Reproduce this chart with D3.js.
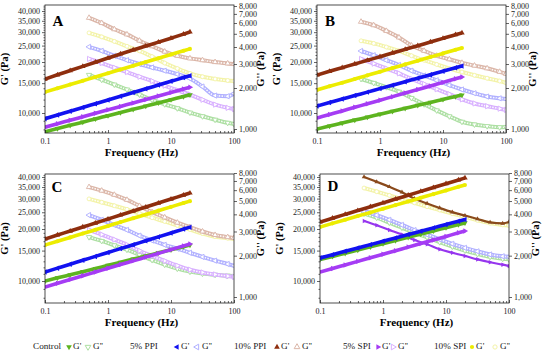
<!DOCTYPE html>
<html><head><meta charset="utf-8">
<script src="https://cdn.jsdelivr.net/npm/d3@7"></script>
<style>
body{margin:0;background:#fff}
svg{display:block}
</style>
</head><body>
<svg id="c" width="550" height="358"></svg>
<script>
// ---------- DATA ----------
const freqGp  = [0.1, 0.158, 0.251, 0.398, 0.631, 1, 1.58, 2.51, 3.98, 6.31, 10, 15.8, 20];
const freqGpp = [0.5, 0.794, 1.26, 2, 3.16, 5.01, 7.94, 12.6, 20, 31.6, 50.1, 79.4, 100];
const groups = ["Control", "5% PPI", "10% PPI", "5% SPI", "10% SPI"];
const xTicks = [0.1, 1, 10, 100];
const xTickLabels = ["0.1", "1", "10", "100"];
const gpTicks = [10000, 15000, 20000, 25000, 30000, 35000, 40000];
const gppTicks = [1000, 2000, 3000, 4000, 5000, 6000, 7000, 8000];
const panelLetters = ["A", "B", "C", "D"];

// Panel A
const gpA_control = [7750, 8100, 8460, 8830, 9230, 9640, 10070, 10510, 10980, 11470, 11980, 12520, 12800];
const gpA_ppi5    = [9250, 9740, 10250, 10790, 11350, 11940, 12560, 13210, 13900, 14620, 15380, 16180, 16600];
const gpA_ppi10   = [15850, 16800, 17800, 18850, 19950, 21100, 22300, 23550, 24850, 26200, 27650, 29200, 30100];
const gpA_spi5    = [8250, 8650, 9060, 9500, 9960, 10440, 10940, 11470, 12030, 12610, 13210, 13850, 14200];
const gpA_spi10   = [13300, 14000, 14730, 15500, 16310, 17160, 18060, 19000, 20000, 21040, 22140, 23300, 23900];
const gppA_control = [2495, 2300, 2120, 1950, 1790, 1640, 1520, 1420, 1320, 1240, 1170, 1110, 1090];
const gppA_ppi5    = [4010, 3750, 3450, 3200, 3000, 2830, 2680, 2530, 2350, 2050, 1760, 1740, 1820];
const gppA_ppi10   = [6550, 6000, 5400, 4950, 4450, 4050, 3700, 3450, 3300, 3200, 3100, 3030, 3000];
const gppA_spi5    = [3270, 3050, 2820, 2620, 2420, 2250, 2080, 1920, 1790, 1640, 1510, 1430, 1400];
const gppA_spi10   = [5080, 4750, 4400, 4050, 3750, 3400, 3050, 2780, 2560, 2420, 2330, 2270, 2250];

// Panel B
const gpB_control = [8045, 8370, 8720, 9080, 9450, 9840, 10240, 10660, 11100, 11550, 12030, 12520, 12770];
const gpB_ppi5    = [10990, 11520, 12080, 12670, 13280, 13930, 14600, 15310, 16050, 16830, 17650, 18500, 18950];
const gpB_ppi10   = [16760, 17620, 18520, 19460, 20460, 21500, 22600, 23750, 24960, 26240, 27580, 28990, 29700];
const gpB_spi5    = [9340, 9800, 10290, 10800, 11340, 11900, 12490, 13110, 13760, 14440, 15160, 15910, 16300];
const gpB_spi10   = [13670, 14370, 15100, 15870, 16680, 17530, 18420, 19360, 20350, 21390, 22480, 23630, 24200];
const gppB_control = [2330, 2180, 2030, 1880, 1690, 1520, 1370, 1240, 1130, 1080, 1050, 1030, 1035];
const gppB_ppi5    = [3740, 3480, 3200, 2950, 2680, 2470, 2280, 2100, 1950, 1830, 1730, 1680, 1660];
const gppB_ppi10   = [6130, 5780, 5250, 4700, 4100, 3750, 3450, 3250, 3060, 2920, 2790, 2630, 2540];
const gppB_spi5    = [3270, 3020, 2780, 2560, 2330, 2140, 1960, 1800, 1650, 1540, 1470, 1410, 1380];
const gppB_spi10   = [4440, 4250, 4000, 3750, 3450, 3200, 2980, 2780, 2620, 2480, 2360, 2250, 2180];

// Panel C
const gpC_control = [10000, 10430, 10870, 11330, 11810, 12320, 12840, 13390, 13950, 14550, 15170, 15810, 16150];
const gpC_ppi5    = [11270, 11870, 12510, 13170, 13880, 14620, 15400, 16220, 17090, 18000, 18960, 19970, 20500];
const gpC_ppi10   = [17500, 18460, 19460, 20530, 21650, 22840, 24090, 25400, 26790, 28260, 29800, 31430, 32300];
const gpC_spi5    = [9230, 9700, 10200, 10720, 11270, 11840, 12450, 13080, 13750, 14450, 15190, 15970, 16380];
const gpC_spi10   = [16150, 16990, 17880, 18820, 19800, 20830, 21920, 23070, 24270, 25540, 26870, 28270, 29000];
const gppC_control = [2730, 2560, 2380, 2210, 2030, 1860, 1720, 1610, 1530, 1480, 1450, 1430, 1420];
const gppC_ppi5    = [3950, 3650, 3350, 3080, 2800, 2580, 2400, 2250, 2100, 1960, 1840, 1740, 1690];
const gppC_ppi10   = [6320, 5950, 5550, 5100, 4600, 4150, 3800, 3480, 3230, 3000, 2830, 2730, 2690];
const gppC_spi5    = [3080, 2850, 2620, 2400, 2170, 1990, 1830, 1690, 1580, 1510, 1460, 1420, 1400];
const gppC_spi10   = [5180, 4900, 4620, 4350, 4050, 3780, 3550, 3320, 3100, 2900, 2750, 2680, 2650];

// Panel D
const gpD_control = [13300, 13880, 14480, 15110, 15760, 16450, 17160, 17910, 18690, 19500, 20350, 21230, 21700];
const gpD_ppi5    = [13590, 14210, 14860, 15540, 16240, 16980, 17760, 18570, 19410, 20300, 21220, 22190, 22700];
const gpD_ppi10   = [21950, 23100, 24310, 25580, 26920, 28330, 29810, 31370, 33020, 34750, 36570, 38480, 39500];
const gpD_spi5    = [11270, 11820, 12390, 12990, 13630, 14290, 14980, 15710, 16480, 17280, 18120, 19000, 19460];
const gpD_spi10   = [20540, 21560, 22640, 23770, 24950, 26200, 27500, 28880, 30320, 31830, 33420, 35090, 35960];
const gppD_control = [4050, 3780, 3480, 3200, 2930, 2720, 2510, 2330, 2180, 2060, 1960, 1900, 1880];
const gppD_ppi5    = [4230, 3950, 3650, 3350, 3070, 2850, 2630, 2440, 2280, 2150, 2040, 1980, 1960];
const gppD_ppi10   = [7490, 6900, 6350, 5800, 5200, 4800, 4450, 4150, 3920, 3700, 3500, 3440, 3520];
const gppD_spi5    = [3580, 3330, 3080, 2850, 2600, 2420, 2230, 2100, 1990, 1880, 1790, 1720, 1680];
const gppD_spi10   = [6220, 5850, 5500, 5150, 4850, 4550, 4300, 4050, 3830, 3620, 3450, 3350, 3320];

// ---------- STYLE / LAYOUT ----------
const FONT = "'Liberation Serif', 'Times New Roman', serif";
const keys = ["control", "ppi5", "ppi10", "spi5", "spi10"];
const style = {
  control: {gp:"#5db41f", gpp:"#acdfa2", sym:d3.symbolTriangle, rot:180},
  ppi5:    {gp:"#1212f0", gpp:"#b0b0ff", sym:d3.symbolTriangle, rot:-90},
  ppi10:   {gp:"#8e2e0e", gpp:"#dbb6a8", sym:d3.symbolTriangle, rot:0},
  spi5:    {gp:"#a53cf4", gpp:"#d8b0ff", sym:d3.symbolTriangle, rot:90},
  spi10:   {gp:"#ecec00", gpp:"#f3f3a8", sym:d3.symbolCircle, rot:0}
};
const panelData = {
  A: {gp:{control:gpA_control, ppi5:gpA_ppi5, ppi10:gpA_ppi10, spi5:gpA_spi5, spi10:gpA_spi10},
      gpp:{control:gppA_control, ppi5:gppA_ppi5, ppi10:gppA_ppi10, spi5:gppA_spi5, spi10:gppA_spi10}},
  B: {gp:{control:gpB_control, ppi5:gpB_ppi5, ppi10:gpB_ppi10, spi5:gpB_spi5, spi10:gpB_spi10},
      gpp:{control:gppB_control, ppi5:gppB_ppi5, ppi10:gppB_ppi10, spi5:gppB_spi5, spi10:gppB_spi10}},
  C: {gp:{control:gpC_control, ppi5:gpC_ppi5, ppi10:gpC_ppi10, spi5:gpC_spi5, spi10:gpC_spi10},
      gpp:{control:gppC_control, ppi5:gppC_ppi5, ppi10:gppC_ppi10, spi5:gppC_spi5, spi10:gppC_spi10}},
  D: {gp:{control:gpD_control, ppi5:gpD_ppi5, ppi10:gpD_ppi10, spi5:gpD_spi5, spi10:gpD_spi10},
      gpp:{control:gppD_control, ppi5:gppD_ppi5, ppi10:gppD_ppi10, spi5:gppD_spi5, spi10:gppD_spi10}}
};
const layout = {
  A: {x:[45,234], gp:[113,11],  gpp:[129,6],   frame:[5,133],   letter:[58,23]},
  B: {x:[317,506],gp:[113,11],  gpp:[129,6],   frame:[5,133],   letter:[330,23]},
  C: {x:[45,234], gp:[281,177], gpp:[297,173], frame:[174,303], letter:[57,189]},
  D: {x:[320,509],gp:[281,177], gpp:[297,173], frame:[174,303], letter:[333,188]}
};
const darkGpp = {D:{ppi10:"#8a4a1c", spi5:"#9636ee"}};

const svg = d3.select("#c");

function symPath(k, size){ return d3.symbol().type(style[k].sym).size(size)(); }

panelLetters.forEach(id => {
  const L = layout[id], D = panelData[id];
  const x = d3.scaleLog().domain([0.1, 100]).range(L.x);
  const yL = d3.scaleLog().domain([10000, 40000]).range(L.gp);
  const yR = d3.scaleLog().domain([1000, 8000]).range(L.gpp);
  const g = svg.append("g");
  const [t, b] = L.frame;

  const clipId = "clip" + id;
  g.append("clipPath").attr("id", clipId).append("rect")
    .attr("x", L.x[0]).attr("y", t).attr("width", L.x[1]-L.x[0]).attr("height", b-t);
  const plot = g.append("g").attr("clip-path", `url(#${clipId})`);

  const order = ["control", "spi5", "ppi5", "spi10", "ppi10"];
  order.forEach(k => {
    const vals = D.gpp[k];
    const pts = freqGpp.map((f, i) => [f, vals[i]]);
    const line = d3.line().x(d => x(d[0])).y(d => yR(d[1])).curve(d3.curveMonotoneX);
    const dark = darkGpp[id] && darkGpp[id][k];
    if (dark) {
      plot.append("path").attr("d", line(pts)).attr("fill","none")
        .attr("stroke", dark).attr("stroke-width", 2.2);
      plot.selectAll(null).data(pts).enter().append("path")
        .attr("d", symPath(k, 9))
        .attr("transform", d => `translate(${x(d[0])},${yR(d[1])}) rotate(${style[k].rot})`)
        .attr("fill", dark);
    } else {
      plot.append("path").attr("d", line(pts)).attr("fill","none")
        .attr("stroke", style[k].gpp).attr("stroke-width", 4);
      plot.append("path").attr("d", line(pts)).attr("fill","none")
        .attr("stroke", "#fff").attr("stroke-width", 1.6).attr("stroke-dasharray", "1.6,1.2").attr("opacity", 0.9);
      plot.selectAll(null).data(pts).enter().append("path")
        .attr("d", symPath(k, 12))
        .attr("transform", d => `translate(${x(d[0])},${yR(d[1])}) rotate(${style[k].rot})`)
        .attr("fill", "#fff").attr("stroke", style[k].gpp).attr("stroke-width", 0.9);
    }
  });

  order.forEach(k => {
    const vals = D.gp[k];
    const pts = freqGp.map((f, i) => [f, vals[i]]);
    const line = d3.line().x(d => x(d[0])).y(d => yL(d[1])).curve(d3.curveMonotoneX);
    plot.append("path").attr("d", line(pts)).attr("fill","none")
      .attr("stroke", style[k].gp).attr("stroke-width", 3.6);
    plot.selectAll(null).data(pts).enter().append("path")
      .attr("d", symPath(k, 13))
      .attr("transform", d => `translate(${x(d[0])},${yL(d[1])}) rotate(${style[k].rot})`)
      .attr("fill", style[k].gp);
  });

  g.append("rect").attr("x", L.x[0]).attr("y", t).attr("width", L.x[1]-L.x[0]).attr("height", b-t)
    .attr("fill", "none").attr("stroke", "#222").attr("stroke-width", 0.8);

  const minorX = [];
  [0.1, 1, 10].forEach(dec => { for (let m = 2; m <= 9; m++) minorX.push(dec * m); });
  const ax = g.append("g").attr("transform", `translate(0,${b})`)
    .call(d3.axisBottom(x).tickValues(xTicks).tickFormat((d, i) => xTickLabels[i]).tickSize(-3).tickPadding(5));
  g.append("g").attr("transform", `translate(0,${b})`)
    .call(d3.axisBottom(x).tickValues(minorX).tickFormat("").tickSize(-2));
  const minorL = [];
  for (let v = 8000; v <= 43000; v += 1000) if (v % 5000 !== 0) minorL.push(v);
  const al = g.append("g").attr("transform", `translate(${L.x[0]},0)`)
    .call(d3.axisLeft(yL).tickValues(gpTicks).tickFormat(d3.format(",")).tickSize(3).tickPadding(2));
  g.append("g").attr("transform", `translate(${L.x[0]},0)`)
    .call(d3.axisLeft(yL).tickValues(minorL.filter(v => yL(v) >= t && yL(v) <= b)).tickFormat("").tickSize(1.5));
  const ar = g.append("g").attr("transform", `translate(${L.x[1]},0)`)
    .call(d3.axisRight(yR).tickValues(gppTicks).tickFormat(d3.format(",")).tickSize(3).tickPadding(2));
  g.selectAll(".domain").remove();
  g.selectAll(".tick line").attr("stroke", "#222").attr("stroke-width", 0.7);
  [ax, al, ar].forEach(a => a.selectAll("text").attr("font-size", 8).attr("fill", "#222").style("font-family", FONT));

  const midX = (L.x[0] + L.x[1]) / 2 + 2;
  g.append("text").attr("x", midX).attr("y", b + 23).attr("text-anchor", "middle").style("font-family", FONT)
    .attr("font-size", 11).attr("font-weight", "bold").text("Frequency (Hz)");
  const midY = (t + b) / 2;
  g.append("text").attr("transform", `translate(${L.x[0]-37},${midY}) rotate(-90)`).style("font-family", FONT)
    .attr("text-anchor", "middle").attr("font-size", 10.5).attr("font-weight", "bold").text("G' (Pa)");
  g.append("text").attr("transform", `translate(${L.x[1]+30},${midY}) rotate(-90)`).style("font-family", FONT)
    .attr("text-anchor", "middle").attr("font-size", 10.5).attr("font-weight", "bold").text("G'' (Pa)");
  g.append("text").attr("x", L.letter[0]).attr("y", L.letter[1]).attr("text-anchor", "middle").style("font-family", FONT)
    .attr("dominant-baseline", "middle").attr("font-size", 15).attr("font-weight", "bold").text(id);
});

// ---------- LEGEND ----------
const legendLayout = [
  {label:33,  fill:69,  open:88},
  {label:130, fill:177, open:197},
  {label:234, fill:277, open:297},
  {label:343, fill:378, open:393},
  {label:434, fill:472, open:495}
];
const ly = 347;
const lg = svg.append("g").attr("fill", "#222");
keys.forEach((k, i) => {
  const p = legendLayout[i];
  lg.append("text").attr("x", p.label).attr("y", ly).attr("dominant-baseline", "middle")
    .attr("font-size", 9.2).style("font-family", FONT).text(groups[i]);
  lg.append("path").attr("d", symPath(k, 14))
    .attr("transform", `translate(${p.fill},${ly}) rotate(${style[k].rot})`).attr("fill", style[k].gp);
  lg.append("text").attr("x", p.fill + 4).attr("y", ly).attr("dominant-baseline", "middle")
    .attr("font-size", 9.2).style("font-family", FONT).text("G'");
  lg.append("path").attr("d", symPath(k, 14))
    .attr("transform", `translate(${p.open},${ly}) rotate(${style[k].rot})`)
    .attr("fill", "#fff").attr("stroke", style[k].gpp).attr("stroke-width", 1);
  lg.append("text").attr("x", p.open + 5).attr("y", ly).attr("dominant-baseline", "middle")
    .attr("font-size", 9.2).style("font-family", FONT).text("G''");
});
</script>
</body></html>
